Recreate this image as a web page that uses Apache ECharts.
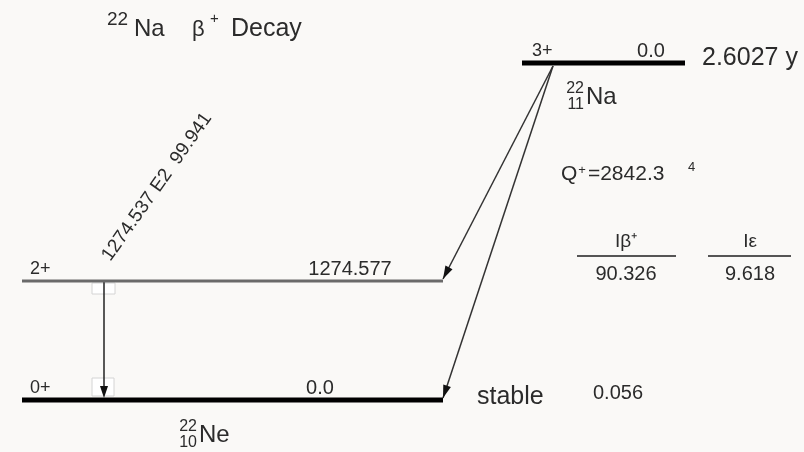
<!DOCTYPE html>
<html><head><meta charset="utf-8">
<script src="https://cdn.jsdelivr.net/npm/echarts@6/dist/echarts.min.js"></script>
<style>html,body{margin:0;padding:0;background:#faf9f7}#c{width:804px;height:452px}</style>
</head><body><div id="c"></div>
<script>
// ---------------- data ----------------
const titleParts = ['22', 'Na', 'β', '+', 'Decay'];
const levelSpin = ['3+', '2+', '0+'];
const levelEnergy = ['0.0', '1274.577', '0.0'];
const levelHalfLife = ['2.6027 y', '', 'stable'];
const betaPlusIntensity = ['', '90.326', '0.056'];
const ecIntensity = ['', '9.618', ''];
const intensityHeaders = ['Iβ⁺', 'Iε'];
const betaFrom = [0, 0];
const betaTo = [1, 2];
const gammaFrom = [1];
const gammaTo = [2];
const gammaEnergy = ['1274.537'];
const gammaMultipolarity = ['E2'];
const gammaIntensity = ['99.941'];
const nuclideSymbol = ['Na', 'Ne'];
const nuclideA = ['22', '22'];
const nuclideZ = ['11', '10'];
const qValue = ['2842.3'];
const qUncertainty = ['4'];

// ---------------- layout (drawing units = px) ----------------
const levelY = [63, 281, 400];
const levelX0 = [522, 22, 22];
const levelX1 = [685, 443, 443];
const levelLineW = [5, 3, 5];
const levelLineC = ['#000', '#6a6a6a', '#000'];
const spinLabelX = [532, 30, 30];
const energyLabelCX = [651, 350, 320];
const halfLifeX = [702, 0, 477];
const halfLifeDY = [-5, 0, -3];
const betaStartX = [553, 553];
const gammaX = [104];
const nuclidePos = [[586, 97], [199, 435]];
const FONT = '"Liberation Sans", Arial, Helvetica, sans-serif';
const TXT = '#2b2b2b';

function txt(x, y, text, size, align, extra) {
  return Object.assign({ type: 'text', style: { text, x, y, fill: TXT, fontSize: size, fontFamily: FONT, align: align || 'left', verticalAlign: 'middle' } }, extra || {});
}
function arrowHead(p1, p0, len, hw) {
  const dx = p1[0] - p0[0], dy = p1[1] - p0[1];
  const d = Math.hypot(dx, dy), ux = dx / d, uy = dy / d;
  const bx = p1[0] - ux * len, by = p1[1] - uy * len;
  return { type: 'polygon', shape: { points: [p1, [bx - uy * hw, by + ux * hw], [bx + uy * hw, by - ux * hw]] }, style: { fill: '#111' } };
}

const chart = echarts.init(document.getElementById('c'), null, { renderer: 'canvas' });
chart.setOption({
  backgroundColor: '#faf9f7',
  animation: false,
  grid: { left: 0, right: 0, top: 0, bottom: 0 },
  xAxis: { type: 'value', min: 0, max: 804, show: false },
  yAxis: { type: 'value', min: 0, max: 452, inverse: true, show: false },
  series: [
    // gamma transitions
    {
      type: 'custom', coordinateSystem: 'cartesian2d', z: 1,
      data: gammaFrom.map((f, i) => [gammaX[i], levelY[f], levelY[gammaTo[i]]]),
      renderItem(params, api) {
        const i = params.dataIndex;
        const top = api.coord([api.value(0), api.value(1)]);
        const bot = api.coord([api.value(0), api.value(2)]);
        const x = top[0];
        const children = [
          { type: 'rect', shape: { x: x - 12, y: top[1] + 2, width: 23, height: 11 }, style: { fill: '#fff', stroke: '#d4d4d4', lineWidth: 1 } },
          { type: 'rect', shape: { x: x - 12, y: bot[1] - 22, width: 22, height: 18 }, style: { fill: '#fff', stroke: '#d4d4d4', lineWidth: 1 } },
          { type: 'line', shape: { x1: x, y1: top[1] + 1, x2: x, y2: bot[1] - 10 }, style: { stroke: '#222', lineWidth: 1.5 } },
          arrowHead([x, bot[1] - 2], [x, top[1]], 12, 4),
          { type: 'text', x: (x + 1) + 52, y: top[1] - 19 - 75, rotation: Math.atan2(150, 106),
            style: { text: gammaEnergy[i] + ' ' + gammaMultipolarity[i] + '  ' + gammaIntensity[i], x: 0, y: 0, fill: TXT, fontSize: 19, fontFamily: FONT, align: 'center', verticalAlign: 'middle' } }
        ];
        return { type: 'group', children };
      }
    },
    // levels
    {
      type: 'custom', coordinateSystem: 'cartesian2d', z: 2,
      data: levelY.map((y, i) => [levelX0[i], y, levelX1[i]]),
      renderItem(params, api) {
        const i = params.dataIndex;
        const p0 = api.coord([api.value(0), api.value(1)]);
        const p1 = api.coord([api.value(2), api.value(1)]);
        const children = [
          { type: 'line', shape: { x1: p0[0], y1: p0[1], x2: p1[0], y2: p1[1] }, style: { stroke: levelLineC[i], lineWidth: levelLineW[i] } },
          txt(spinLabelX[i], p0[1] - 12, levelSpin[i], 18, 'left'),
          txt(energyLabelCX[i], p0[1] - 12, levelEnergy[i], 20, 'center')
        ];
        if (levelHalfLife[i]) children.push(txt(halfLifeX[i], p0[1] + halfLifeDY[i], levelHalfLife[i], 25, 'left'));
        if (betaPlusIntensity[i] && i === 2) children.push(txt(593, p0[1] - 7, betaPlusIntensity[i], 20, 'left'));
        return { type: 'group', children };
      }
    },
    // beta / EC transitions
    {
      type: 'custom', coordinateSystem: 'cartesian2d', z: 3,
      data: betaFrom.map((f, i) => [betaStartX[i], levelY[f] + 3, levelX1[betaTo[i]], levelY[betaTo[i]] - 2]),
      renderItem(params, api) {
        const p0 = api.coord([api.value(0), api.value(1)]);
        const p1 = api.coord([api.value(2), api.value(3)]);
        return { type: 'group', children: [
          { type: 'line', shape: { x1: p0[0], y1: p0[1], x2: p1[0], y2: p1[1] }, style: { stroke: '#333', lineWidth: 1.5 } },
          arrowHead(p1, p0, 13, 4)
        ] };
      }
    },
    // nuclide labels, title, Q value, intensity table
    {
      type: 'custom', coordinateSystem: 'cartesian2d', z: 4,
      data: [[0, 0]],
      renderItem(params, api) {
        const o = api.coord([0, 0]);
        const children = [];
        nuclideSymbol.forEach((s, k) => {
          const [x, y] = nuclidePos[k];
          children.push(txt(o[0] + x - 2, o[1] + y - 8, nuclideA[k], 16, 'right'));
          children.push(txt(o[0] + x - 2, o[1] + y + 8, nuclideZ[k], 16, 'right'));
          children.push(txt(o[0] + x, o[1] + y, s, 24, 'left'));
        });
        // title
        children.push(txt(107, 20, titleParts[0], 19, 'left'));
        children.push(txt(134, 29, titleParts[1], 24, 'left'));
        children.push(txt(192, 30, titleParts[2], 22, 'left'));
        children.push(txt(210, 19, titleParts[3], 15, 'left'));
        children.push(txt(231, 29, titleParts[4], 25, 'left'));
        // Q value
        children.push({ type: 'text', style: { x: 561, y: 174, fill: TXT, fontFamily: FONT, fontSize: 21, verticalAlign: 'middle',
          text: '{q|Q}{s|+}{q|=' + qValue[0] + '}', rich: { q: { fontSize: 21, fontFamily: FONT, fill: TXT }, s: { fontSize: 13, fontFamily: FONT, fill: TXT, verticalAlign: 'top', padding: [0, 2, 8, 1] } } } });
        children.push(txt(688, 167, qUncertainty[0], 13, 'left'));
        // intensity table
        const colCX = [626, 750], colL = [577, 708], colR = [676, 791];
        const vals = [betaPlusIntensity[1], ecIntensity[1]];
        intensityHeaders.forEach((h, c) => {
          children.push(txt(colCX[c], 242, h, 19, 'center'));
          children.push({ type: 'line', shape: { x1: colL[c], y1: 256, x2: colR[c], y2: 256 }, style: { stroke: '#555', lineWidth: 2 } });
          children.push(txt(colCX[c], 274, vals[c], 20, 'center'));
        });
        return { type: 'group', children };
      }
    }
  ]
});
</script></body></html>
